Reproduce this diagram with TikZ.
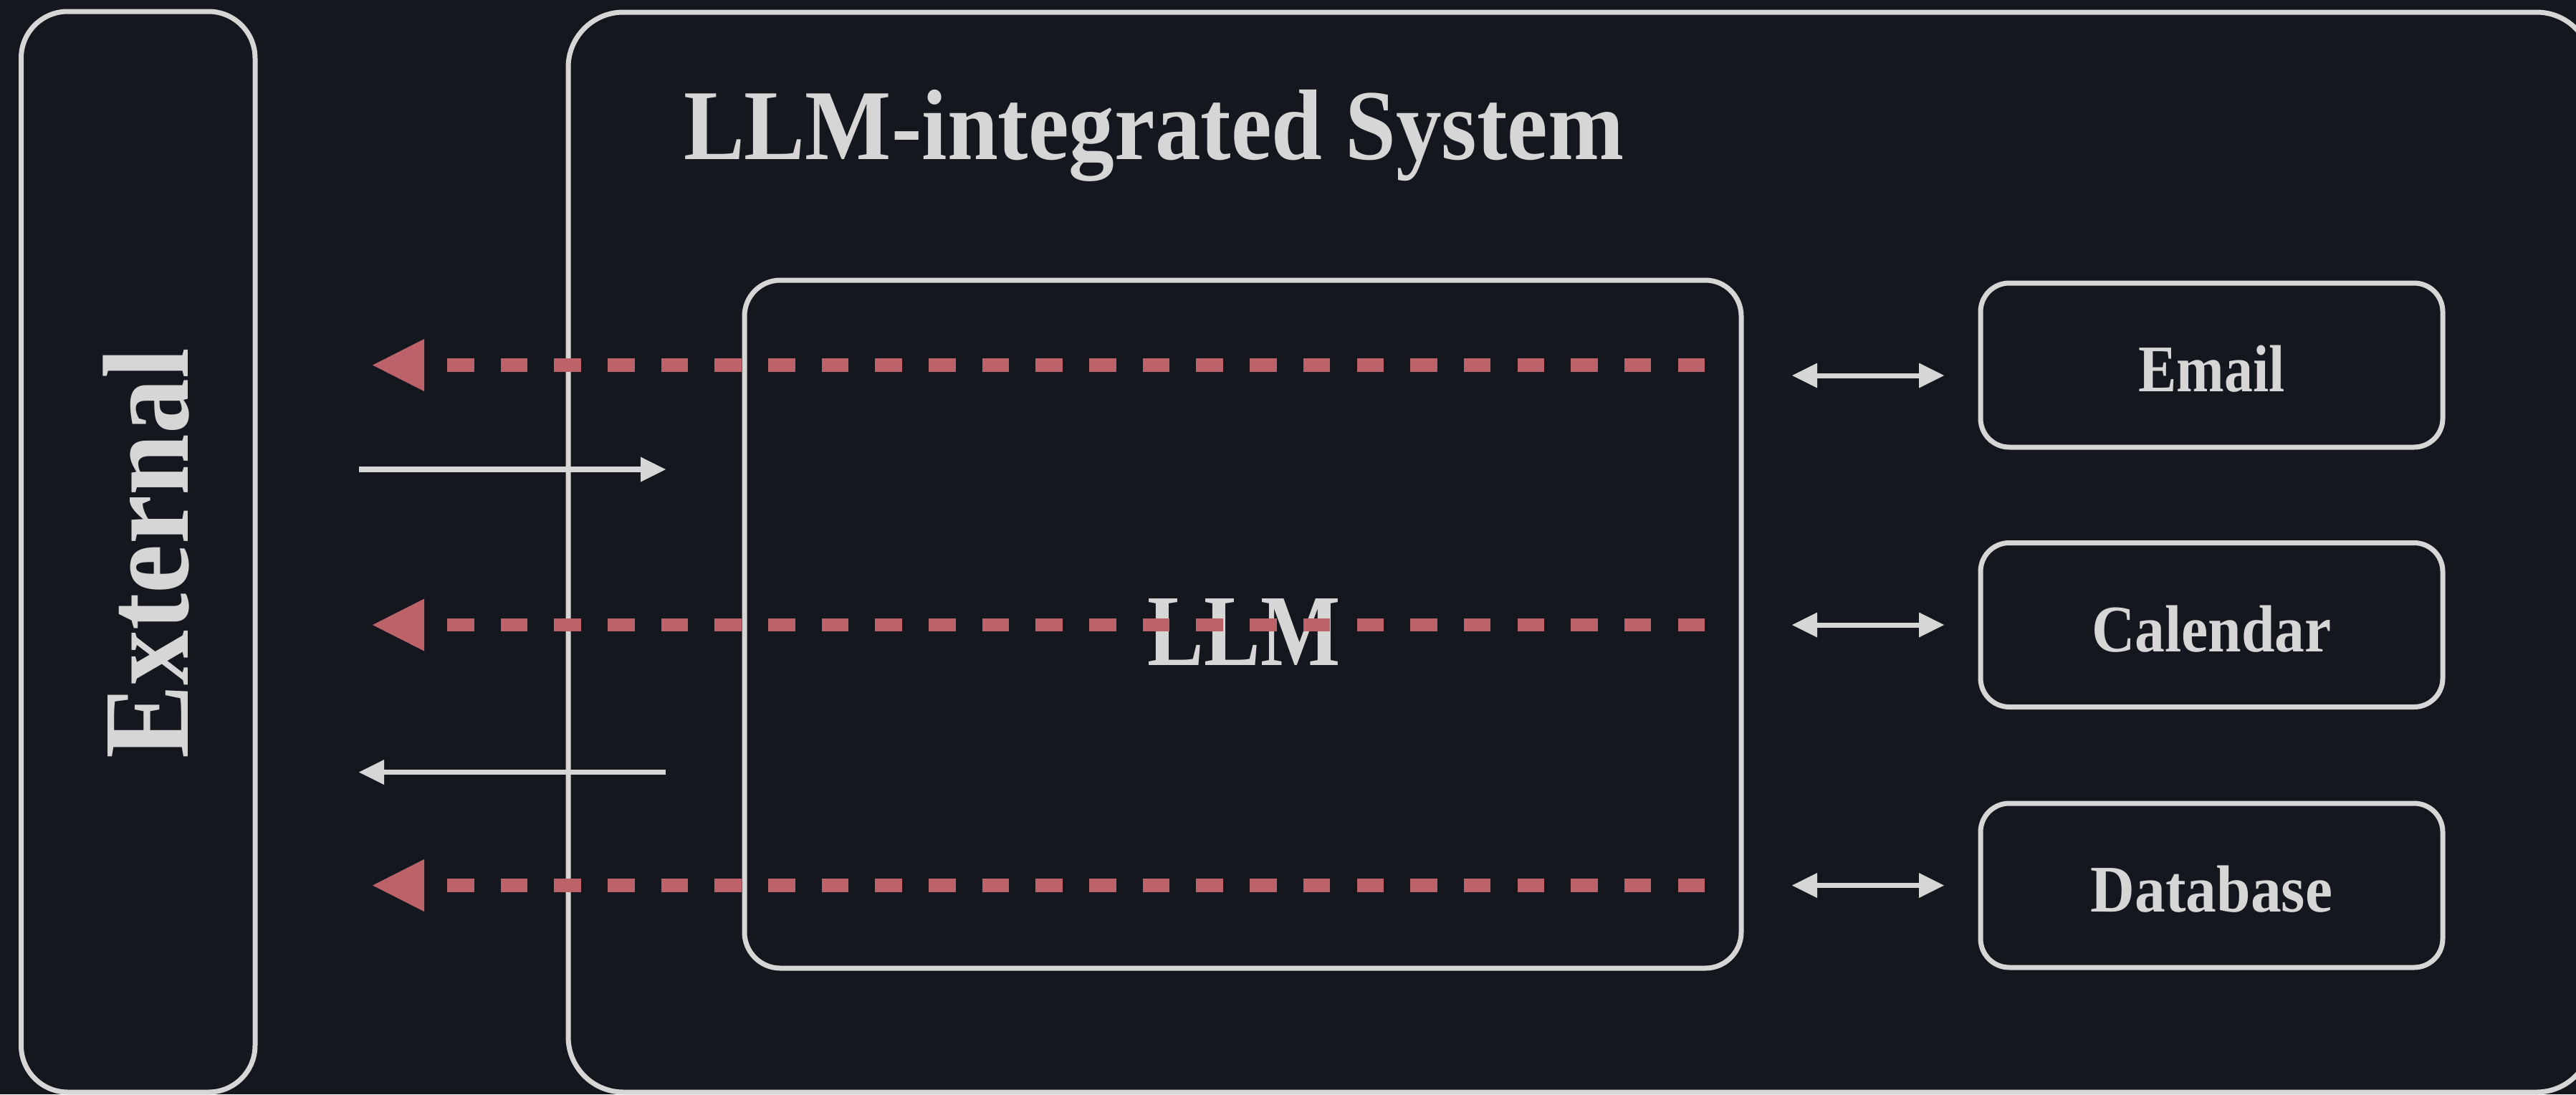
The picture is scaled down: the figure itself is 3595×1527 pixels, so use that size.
\documentclass[tikz,border=0pt]{standalone}
\usepackage{fontspec}
\setmainfont{Liberation Serif}
\newfontfamily\fTitle{Liberation Serif}[FakeStretch=0.91]
\newfontfamily\fLLM{Liberation Serif}[FakeStretch=0.83]
\newfontfamily\fExt{Liberation Serif}[FakeStretch=0.90]
\newfontfamily\fEm{Liberation Serif}[FakeStretch=0.86]
\newfontfamily\fCal{Liberation Serif}[FakeStretch=0.90]
\newfontfamily\fDb{Liberation Serif}[FakeStretch=0.92]
\usetikzlibrary{arrows.meta,calc}
\definecolor{bg}{RGB}{20,23,30}
\definecolor{fg}{RGB}{214,214,214}
\definecolor{rd}{RGB}{190,98,106}
\begin{document}
\begin{tikzpicture}[x=1pt,y=-1pt,
  frame/.style={draw=fg, line width=7pt, inner sep=0pt, outer sep=0pt},
  toolbox/.style={frame, rounded corners=40pt, minimum width=645pt, minimum height=229pt,
    text height=74pt, text depth=0pt, text=fg},
  lbl/.style={inner sep=0pt, outer sep=0pt, text=fg},
  redarr/.style={draw=rd, line width=18.4pt, dash pattern=on 37.5pt off 37.17pt,
    -{Triangle[length=72pt,width=73pt,line width=0pt]}},
  warr/.style={draw=fg, line width=7.5pt, -{Triangle[length=35pt,width=35pt,line width=0pt]}},
  dblarr/.style={draw=fg, line width=7pt,
    {Triangle[length=35pt,width=35pt,line width=0pt]}-{Triangle[length=35pt,width=35pt,line width=0pt]}}
]
\useasboundingbox (0,0) rectangle (3595,1527);
\fill[bg] (0,0) rectangle (3595,1527);
\clip (0,0) rectangle (3595,1527);

% containers
\node[frame, rounded corners=65pt, minimum width=326.5pt, minimum height=1508pt] (external) at (192.75,770) {};
\node[frame, rounded corners=77pt, minimum width=2824pt, minimum height=1507pt] (system) at (2205,770.5) {};
\node[frame, rounded corners=50pt, minimum width=1391pt, minimum height=960pt] (llm) at (1734.5,871) {};

% labels
\node[lbl, anchor=base west, font=\fontsize{140}{140}\fTitle\bfseries] (title) at (954,222) {LLM-integrated System};
\node[lbl, anchor=base, font=\fontsize{142}{142}\fLLM\bfseries] (llmlabel) at (1736,928) {LLM};
\node[lbl, rotate=90, anchor=base, font=\fontsize{171}{171}\fExt\bfseries] (extlabel) at (262,772.5) {External};

% tools
\node[toolbox, font=\fontsize{93}{93}\fEm\bfseries] (email) at (3086.5,509.5) {Email};
\node[toolbox, font=\fontsize{93}{93}\fCal\bfseries] (calendar) at (3086.5,872) {Calendar};
\node[toolbox, font=\fontsize{93}{93}\fDb\bfseries] (database) at (3086.5,1235.5) {Database};

% double arrows LLM <-> tools
\draw[dblarr] ($(llm.east |- email.west)+(71,14.5)$) -- ($(email.west)+(-51,14.5)$);
\draw[dblarr] ($(llm.east |- calendar.west)+(71,0)$) -- ($(calendar.west)+(-51,0)$);
\draw[dblarr] ($(llm.east |- database.west)+(71,0)$) -- ($(database.west)+(-51,0)$);

% external <-> system white arrows
\coordinate (inA) at (501,655);
\coordinate (inB) at (929,655);
\coordinate (outA) at (929,1077.5);
\coordinate (outB) at (501,1077.5);
\draw[warr] (inA) -- (inB);
\draw[warr] (outA) -- (outB);

% red dashed leak arrows
\draw[redarr] ($(llm.east |- email.west)+(-51,0)$) -- ($(external.east |- email.west)+(164,0)$);
\draw[redarr] ($(llm.east |- calendar.west)+(-51,0)$) -- ($(external.east |- calendar.west)+(164,0)$);
\draw[redarr] ($(llm.east |- database.west)+(-51,0)$) -- ($(external.east |- database.west)+(164,0)$);
\end{tikzpicture}
\end{document}
